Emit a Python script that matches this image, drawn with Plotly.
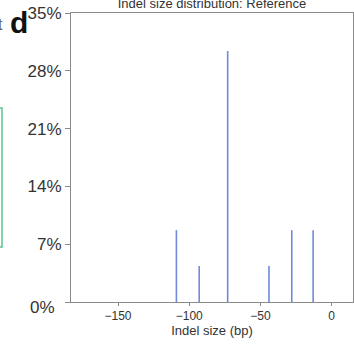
import plotly.graph_objects as go

indel_sizes = [-109, -93, -73, -44, -28, -13]
percentages = [8.7, 4.35, 30.4, 4.35, 8.7, 8.7]
y_tick_vals = [0, 7, 14, 21, 28, 35]
y_tick_text = ["", "7%", "14%", "21%", "28%", "35%"]
y_zero_label = "0%"
x_tick_vals = [-150, -100, -50, 0]
x_tick_text = ["\u2212150", "\u2212100", "\u221250", "0"]

xs, ys = [], []
for s, p in zip(indel_sizes, percentages):
    xs += [s, s, None]
    ys += [0, p, None]

fig = go.Figure()
fig.add_trace(go.Scatter(x=xs, y=ys, mode="lines",
                         line=dict(color="#6d8bd6", width=1.6),
                         hoverinfo="skip", showlegend=False))

W, H = 354, 347
L, R, T, B = 71, 1, 13, 45
PW, PH = W - L - R, H - T - B


def px(x):
    return (x - L) / PW


def py(y):
    return (H - B - y) / PH


fig.update_layout(
    width=W, height=H,
    margin=dict(l=L, r=R, t=T, b=B, pad=0),
    paper_bgcolor="white", plot_bgcolor="white",
    font=dict(family="Liberation Sans, Arial, sans-serif", color="#333333"),
    title=dict(text="Indel size distribution: Reference", x=212 / W, xanchor="center",
               yref="container", y=1 - 3.5 / H, yanchor="middle", automargin=False,
               font=dict(size=13, color="#333333")),
    xaxis=dict(range=[-183, 15], tickvals=x_tick_vals, ticktext=x_tick_text,
               automargin=False,
               showgrid=False, zeroline=False, showline=True, linecolor="#8a8a8a",
               linewidth=1, mirror=True, ticks="outside", ticklen=3, tickcolor="#8a8a8a",
               tickfont=dict(size=12, color="#333333"),
               title=dict(text="Indel size (bp)", font=dict(size=13, color="#333333"),
                          standoff=0)),
    yaxis=dict(range=[0, 35], tickvals=y_tick_vals, ticktext=y_tick_text,
               automargin=False,
               showgrid=False, zeroline=False, showline=True, linecolor="#8a8a8a",
               linewidth=1, mirror=True, ticks="outside", ticklen=5, tickcolor="#8a8a8a",
               tickfont=dict(size=17, color="#333333")),
    annotations=[
        dict(text=y_zero_label, xref="paper", yref="paper",
             x=px(57), y=py(307),
             xanchor="right", yanchor="middle", showarrow=False,
             font=dict(size=17, color="#333333")),
        dict(text="<b>d</b>", xref="paper", yref="paper",
             x=px(19), y=py(22),
             xanchor="center", yanchor="middle", showarrow=False,
             font=dict(size=30, color="#111111")),
        dict(text="t", xref="paper", yref="paper",
             x=px(0.5), y=py(24),
             xanchor="center", yanchor="middle", showarrow=False,
             font=dict(size=16, color="#666666")),
    ],
    shapes=[
        dict(type="rect", xref="paper", yref="paper",
             x0=px(-20), x1=px(2),
             y0=py(247), y1=py(108),
             line=dict(color="#5cc58a", width=1.5)),
    ],
)

fig.write_html("out.html",
               config={"displayModeBar": False},
               post_script="document.body.style.margin='0';document.body.style.overflow='hidden';")
